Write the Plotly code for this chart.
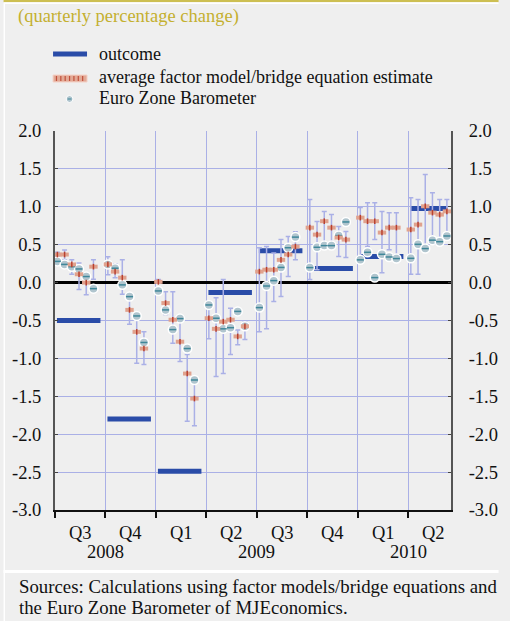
import plotly.graph_objects as go

# ---------------- data ----------------
quarters = ["Q3", "Q4", "Q1", "Q2", "Q3", "Q4", "Q1", "Q2"]
quarter_years = ["2008", "2008", "2009", "2009", "2009", "2009", "2010", "2010"]
outcome = [-0.50, -1.80, -2.49, -0.13, 0.42, 0.185, 0.343, 0.976]

# six successive estimates per quarter
estimate = [0.37, 0.37, 0.24, 0.11, 0.00, 0.21,
            0.24, 0.145, 0.065, -0.36, -0.65, -0.87,
            0.01, -0.27, -0.49, -0.78, -1.20, -1.53,
            -0.47, -0.61, -0.515, -0.49, -0.71, -0.577,
            0.145, 0.17, 0.17, 0.30, 0.37, 0.475,
            0.725, 0.633, 0.81, 0.725, 0.594, 0.567,
            0.857, 0.81, 0.81, 0.66, 0.725, 0.725,
            0.70, 0.765, 1.007, 0.923, 0.897, 0.94]
est_high = [0.40, 0.43, 0.30, 0.26, 0.11, 0.30,
            0.34, 0.25, 0.30, -0.18, -0.44, -0.65,
            0.04, -0.12, -0.12, -0.475, -0.95, -1.30,
            -0.30, -0.20, 0.04, -0.34, -0.625, -0.52,
            0.46, 0.475, 0.39, 0.567, 0.607, 0.67,
            1.095, 0.805, 0.937, 0.897, 0.74, 0.673,
            0.99, 1.055, 1.055, 0.937, 0.923, 0.923,
            1.12, 1.095, 1.425, 1.187, 1.095, 1.095]
est_low = [0.34, 0.30, 0.11, -0.09, -0.16, 0.045,
           0.105, 0.065, -0.155, -0.55, -1.065, -1.08,
           -0.01, -0.42, -0.80, -1.04, -1.83, -1.89,
           -0.74, -1.24, -1.20, -0.95, -0.82, -0.75,
           -0.65, -0.61, -0.25, -0.185, 0.08, 0.30,
           0.04, 0.17, 0.49, 0.49, 0.343, 0.33,
           0.30, 0.475, 0.567, 0.13, 0.435, 0.32,
           0.11, 0.11, 0.45, 0.56, 0.54, 0.615]
barometer = [0.28, 0.24, 0.21, 0.18, 0.08, -0.08,
             0.24, 0.19, -0.03, -0.185, -0.44, -0.79,
             -0.11, -0.36, -0.62, -0.475, -0.87, -1.285,
             -0.295, -0.47, -0.61, -0.595, -0.38, -0.577,
             -0.33, -0.045, 0.026, 0.20, 0.46, 0.60,
             0.198, 0.466, 0.488, 0.488, 0.62, 0.80,
             0.30, 0.40, 0.066, 0.373, 0.338, 0.317,
             0.32, 0.505, 0.449, 0.56, 0.54, 0.615]

y_ticks = [-3.0, -2.5, -2.0, -1.5, -1.0, -0.5, 0.0, 0.5, 1.0, 1.5, 2.0]
y_ticktext = [f"{v:.1f}" for v in y_ticks]

# ---------------- layout helpers ----------------
W, H = 510, 621
PL, PR, PT, PB = 53, 461, 131, 510
SLOTS = 7          # x units per quarter
PER_Q = 6          # estimates per quarter
X_MAX = 54.9

def px_x(px):
    return (px - PL) / (PR - PL)

def px_y(py):
    return (PB - py) / (PB - PT)

xs = [q * SLOTS + 0.33 + k for q in range(len(quarters)) for k in range(PER_Q)]

ox, oy = [], []
for q, v in enumerate(outcome):
    x0 = q * SLOTS + 0.27
    x1 = min(q * SLOTS + 6.3, X_MAX - 0.5)
    ox += [x0, x1, None]
    oy += [v, v, None]

FONT = "Liberation Serif"
GRID = "#aab0e6"
BLUE = "#2a4ca8"

fig = go.Figure()

fig.add_trace(go.Scatter(x=ox, y=oy, mode="lines", line=dict(color=BLUE, width=5),
                         showlegend=False, hoverinfo="skip"))
# whiskers (range of estimates)
fig.add_trace(go.Scatter(
    x=xs, y=estimate, mode="markers", marker=dict(size=1, opacity=0),
    error_y=dict(type="data", symmetric=False,
                 array=[h - e for h, e in zip(est_high, estimate)],
                 arrayminus=[e - l for e, l in zip(estimate, est_low)],
                 color=GRID, thickness=1.5, width=2.5),
    showlegend=False, hoverinfo="skip"))
# Euro Zone Barometer
fig.add_trace(go.Scatter(x=xs, y=barometer, mode="markers",
                         marker=dict(symbol="circle", size=9, color="#b0c5ce",
                                     line=dict(color="white", width=1.5)),
                         showlegend=False))
fig.add_trace(go.Scatter(x=xs, y=barometer, mode="markers",
                         marker=dict(symbol="line-ew", size=5,
                                     line=dict(color="#3f8799", width=1.5)),
                         showlegend=False, hoverinfo="skip"))
# average estimate
fig.add_trace(go.Scatter(x=xs, y=estimate, mode="markers",
                         marker=dict(symbol="line-ew", size=6,
                                     line=dict(color="#e0a28e", width=4)),
                         showlegend=False))
fig.add_trace(go.Scatter(x=xs, y=estimate, mode="markers",
                         marker=dict(symbol="line-ns", size=4,
                                     line=dict(color="#b8412f", width=1.5)),
                         showlegend=False, hoverinfo="skip"))
# dummy for right axis
fig.add_trace(go.Scatter(x=[None], y=[None], yaxis="y2", showlegend=False))

shapes = []
# page decoration
shapes.append(dict(type="rect", xref="paper", yref="paper", layer="above",
                   x0=px_x(0), x1=px_x(W), y0=px_y(0), y1=px_y(2.2),
                   fillcolor="#cdbf52", line=dict(width=0)))
shapes.append(dict(type="rect", xref="paper", yref="paper", layer="above",
                   x0=px_x(0), x1=px_x(W), y0=px_y(2.2), y1=px_y(4),
                   fillcolor="white", line=dict(width=0)))
shapes.append(dict(type="rect", xref="paper", yref="paper", layer="above",
                   x0=px_x(0), x1=px_x(W), y0=px_y(570), y1=px_y(573),
                   fillcolor="white", line=dict(width=0)))
shapes.append(dict(type="rect", xref="paper", yref="paper", layer="above",
                   x0=px_x(0), x1=px_x(1.5), y0=px_y(4), y1=px_y(H),
                   fillcolor="white", line=dict(width=0)))

# manual legend glyphs
shapes.append(dict(type="rect", xref="paper", yref="paper",
                   x0=px_x(51), x1=px_x(86), y0=px_y(51.5), y1=px_y(56.5),
                   fillcolor=BLUE, line=dict(width=0)))
shapes.append(dict(type="rect", xref="paper", yref="paper",
                   x0=px_x(51), x1=px_x(86), y0=px_y(75), y1=px_y(82),
                   fillcolor="#e3a995", line=dict(color="#f4d2c8", width=1)))
for i in range(7):
    sx = 54.5 + i * 4.5
    shapes.append(dict(type="line", xref="paper", yref="paper",
                       x0=px_x(sx), x1=px_x(sx), y0=px_y(76), y1=px_y(81),
                       line=dict(color="#c0503c", width=1.2)))
shapes.append(dict(type="circle", xref="paper", yref="paper",
                   x0=px_x(64.5), x1=px_x(71.5), y0=px_y(95.5), y1=px_y(102.5),
                   fillcolor="#b0c5ce", line=dict(color="white", width=1)))
shapes.append(dict(type="line", xref="paper", yref="paper",
                   x0=px_x(66), x1=px_x(70), y0=px_y(99), y1=px_y(99),
                   line=dict(color="#3f8799", width=1)))

annotations = []
annotations.append(dict(text="(quarterly percentage change)", xref="paper", yref="paper",
                        x=px_x(13), y=px_y(17), xanchor="left", yanchor="middle",
                        showarrow=False, font=dict(family=FONT, size=18.5, color="#c4b030")))
legend_items = [("outcome", 54), ("average factor model/bridge equation estimate", 77),
                ("Euro Zone Barometer", 98)]
for txt, yy in legend_items:
    annotations.append(dict(text=txt, xref="paper", yref="paper", x=px_x(96), y=px_y(yy),
                            xanchor="left", yanchor="middle", showarrow=False,
                            font=dict(family=FONT, size=18, color="#111")))
for q, lab in enumerate(quarters):
    annotations.append(dict(text=lab, xref="x", yref="paper", x=q * SLOTS + 3.5, y=0,
                            yanchor="middle", yshift=-23, showarrow=False,
                            font=dict(family=FONT, size=18.5, color="#111")))
for yr in sorted(set(quarter_years)):
    idx = [q for q, y in enumerate(quarter_years) if y == yr]
    cx = sum(q * SLOTS + 3.5 for q in idx) / len(idx)
    annotations.append(dict(text=yr, xref="x", yref="paper", x=cx, y=0,
                            yanchor="middle", yshift=-41.5, showarrow=False,
                            font=dict(family=FONT, size=18.5, color="#111")))
for txt, yy in [("Sources: Calculations using factor models/bridge equations and", 586.5),
                ("the Euro Zone Barometer of MJEconomics.", 607.5)]:
    annotations.append(dict(text=txt, xref="paper", yref="paper", x=px_x(14), y=px_y(yy),
                            xanchor="left", yanchor="middle", showarrow=False,
                            font=dict(family=FONT, size=18.8, color="#111")))

fig.update_layout(
    width=W, height=H, autosize=False,
    margin=dict(l=PL, r=W - PR, t=PT, b=H - PB, pad=0),
    paper_bgcolor="#efefef", plot_bgcolor="#efefef",
    showlegend=False,
    xaxis=dict(range=[0, X_MAX], tickvals=[q * SLOTS for q in range(len(quarters))],
               ticktext=["" for _ in quarters], ticks="outside", ticklen=6, tickwidth=2,
               tickcolor="#111", showline=True, linecolor="#111", linewidth=2,
               showgrid=True, gridcolor=GRID, gridwidth=1, zeroline=False),
    yaxis=dict(range=[-3, 2], tickvals=y_ticks, ticktext=y_ticktext, ticks="inside",
               ticklen=3, tickcolor="#444", showline=True, linecolor="#555", linewidth=2,
               showgrid=True, gridcolor=GRID, gridwidth=1,
               zeroline=True, zerolinecolor="#000", zerolinewidth=2.5,
               ticklabelstandoff=8, tickfont=dict(family=FONT, size=18.5, color="#111")),
    yaxis2=dict(range=[-3, 2], overlaying="y", side="right", tickvals=y_ticks,
                ticktext=y_ticktext, ticks="inside", ticklen=3, tickcolor="#444",
                showline=True, linecolor="#555", linewidth=2, showgrid=False, zeroline=False,
                ticklabelstandoff=12, tickfont=dict(family=FONT, size=18.5, color="#111")),
    shapes=shapes, annotations=annotations,
)

fig.write_html("out.html", config={"displayModeBar": False},
               post_script="document.body.style.margin='0px';")
